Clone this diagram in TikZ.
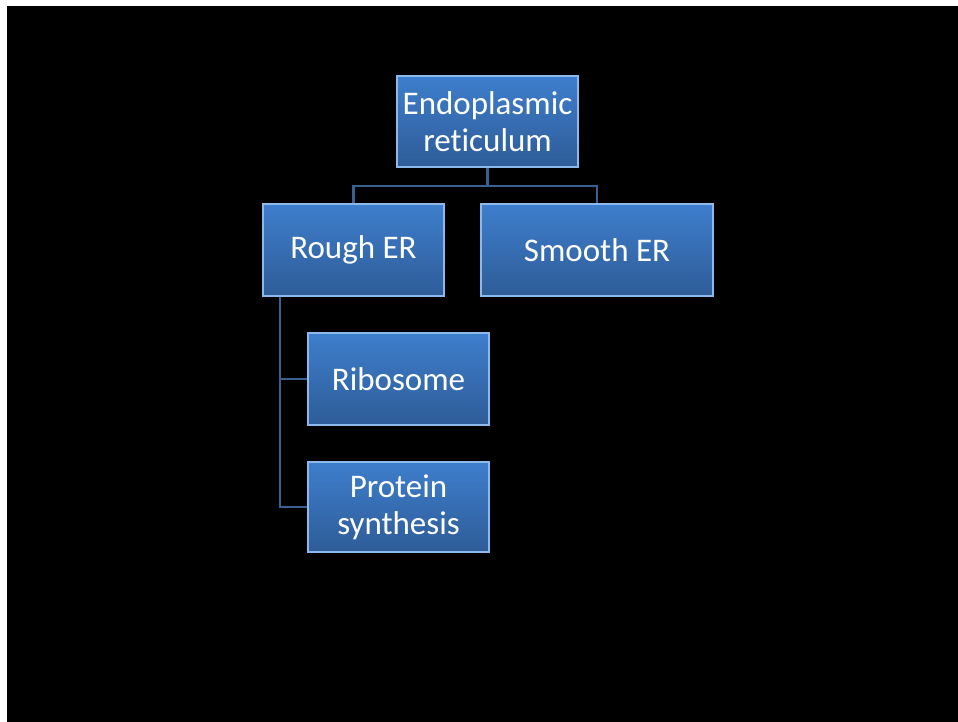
\documentclass[tikz,border=0pt]{standalone}
\usepackage{fontspec}
\setmainfont[Ligatures=NoCommon]{Carlito}
\usetikzlibrary{positioning}
\definecolor{boxtop}{RGB}{62,126,204}
\definecolor{boxbot}{RGB}{46,92,152}
\definecolor{edgelight}{RGB}{140,185,235}
\definecolor{linkc}{RGB}{58,96,145}
\tikzset{
  erbox/.style={rectangle, top color=boxtop, bottom color=boxbot, draw=edgelight, line width=1.2pt,
    text=white, align=center, font=\fontsize{33}{37}\selectfont, inner sep=0pt},
  link/.style={draw=linkc, line width=2.2pt}
}
\begin{document}
\begin{tikzpicture}[x=1pt,y=-1pt]
\fill[white] (0,0) rectangle (958,722);
\fill[black] (7,6) rectangle (958,722);
\useasboundingbox (0,0) rectangle (958,722);
\node[erbox, minimum width=181pt, minimum height=91pt] (er) at (487.5,121.5) {Endoplasmic\\reticulum};
\node[erbox, minimum width=181pt, minimum height=92pt] (rough) at (353.5,250) {Rough ER};
\node[erbox, minimum width=232pt, minimum height=92pt] (smooth) at (597,250) {Smooth ER};
\node[erbox, minimum width=181pt, minimum height=92pt] (ribo) at (398.5,379) {Ribosome};
\node[erbox, minimum width=181pt, minimum height=90pt] (prot) at (398.5,507) {Protein\\synthesis};
\coordinate (bus) at (487.5,186);
\draw[link] (er.south) -- (bus);
\draw[link] (rough.north) |- (bus) -| (smooth.north);
\coordinate (spine) at (280,296);
\draw[link] (rough.south -| spine) |- (ribo.west);
\draw[link] (rough.south -| spine) |- (prot.west);
\end{tikzpicture}
\end{document}
